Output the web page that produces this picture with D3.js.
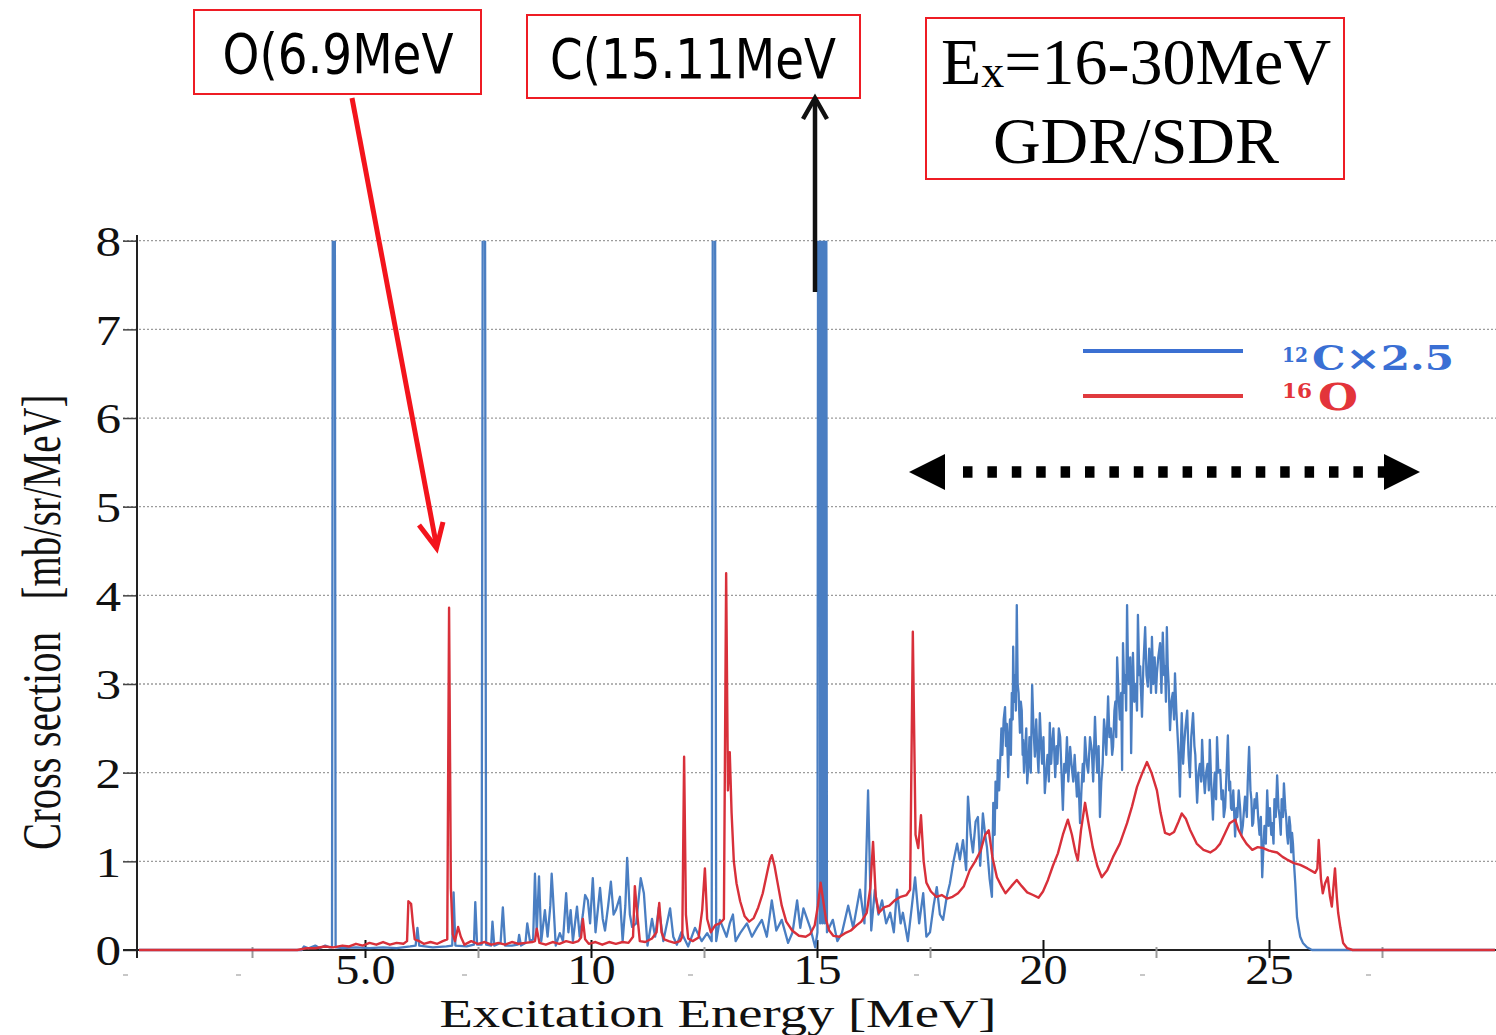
<!DOCTYPE html>
<html>
<head>
<meta charset="utf-8">
<script src="https://cdn.jsdelivr.net/npm/d3@7"></script>
<style>
  html, body { margin: 0; padding: 0; background: #fff; overflow: hidden; }
  svg { display: block; }
</style>
</head>
<body>
<svg id="chart" width="1496" height="1035"></svg>
<script>
// ---- axis ticks and labels ----
const yTicks = [0, 1, 2, 3, 4, 5, 6, 7, 8];
const gridValues = [1, 2, 3, 4, 5, 6, 7, 8];
const xMajorTicks = [5, 10, 15, 20, 25];
const xTickLabels = ["5.0", "10", "15", "20", "25"];
const xMinorTicks = [2.5, 7.5, 12.5, 17.5, 22.5, 27.5];
const xFaintMarks = [0, 2.5, 7.5, 12.5, 17.5, 22.5, 27.5];

// ---- 12C (x2.5) spectrum: [excitation energy MeV, cross section mb/sr/MeV] ----
// discrete states at 4.4, 7.65, 12.71 and 15.11 MeV run far above the frame
const carbonSpectrum = [
  [0,0],[3.6,0],[3.65,0.04],[3.75,0.02],[3.9,0.05],[4.0,0.02],[4.12,0.05],[4.22,0.03],[4.27,0.03],
  [4.295,12],[4.325,12],[4.35,0.03],[4.5,0.02],[4.8,0.03],[5.1,0.02],[5.4,0.03],[5.7,0.02],
  [6.0,0.04],[6.12,0.05],[6.16,0.25],[6.2,0.05],[6.5,0.03],[6.8,0.04],[6.93,0.05],[6.96,0.65],
  [7.0,0.05],[7.25,0.04],[7.41,0.06],[7.44,0.54],[7.48,0.06],[7.58,0.06],[7.615,12],[7.645,12],
  [7.68,0.06],[7.79,0.05],[7.82,0.32],[7.86,0.05],[8.0,0.08],[8.05,0.48],[8.1,0.05],[8.25,0.05],
  [8.38,0.06],[8.41,0.17],[8.45,0.05],[8.55,0.08],[8.59,0.3],[8.65,0.1],[8.72,0.12],[8.76,0.86],
  [8.8,0.2],[8.85,0.83],[8.9,0.1],[8.98,0.45],[9.04,0.15],[9.1,0.5],[9.13,0.86],[9.16,0.6],
  [9.22,0.05],[9.31,0.19],[9.38,0.1],[9.45,0.64],[9.5,0.2],[9.55,0.45],[9.6,0.1],[9.69,0.49],
  [9.75,0.15],[9.82,0.4],[9.87,0.62],[9.93,0.56],[9.98,0.3],[10.04,0.81],[10.1,0.2],[10.2,0.7],
  [10.26,0.35],[10.31,0.22],[10.38,0.5],[10.44,0.77],[10.5,0.4],[10.55,0.45],[10.64,0.6],[10.7,0.1],
  [10.76,0.5],[10.8,1.04],[10.86,0.4],[10.91,0.26],[11.0,0.3],[11.1,0.81],[11.17,0.64],[11.25,0.05],
  [11.35,0.35],[11.42,0.15],[11.5,0.48],[11.6,0.1],[11.75,0.47],[11.82,0.15],[11.9,0.06],[12.0,0.2],
  [12.15,0.04],[12.3,0.25],[12.45,0.1],[12.57,0.19],[12.67,0.1],[12.705,12],[12.735,12],[12.77,0.1],
  [12.85,0.34],[13.0,0.15],[13.07,0.3],[13.14,0.4],[13.2,0.1],[13.3,0.19],[13.45,0.3],[13.56,0.15],
  [13.67,0.25],[13.78,0.34],[13.89,0.15],[14.0,0.56],[14.1,0.22],[14.22,0.34],[14.36,0.08],[14.46,0.2],
  [14.56,0.56],[14.63,0.25],[14.7,0.47],[14.85,0.25],[14.96,0.03],[15.01,0.2],[15.03,12],[15.06,12],
  [15.07,0.3],[15.08,12],[15.11,12],[15.12,0.3],[15.13,12],[15.16,12],[15.17,0.3],[15.18,12],
  [15.2,12],[15.22,0.2],[15.35,0.34],[15.45,0.1],[15.55,0.19],[15.69,0.5],
  [15.8,0.25],[15.95,0.68],[16.05,0.3],[16.13,1.8],[16.2,0.22],[16.28,0.68],[16.36,0.4],[16.44,0.56],
  [16.53,0.3],[16.62,0.42],[16.7,0.2],[16.77,0.68],[16.85,0.3],[16.9,0.42],[17.01,0.1],[17.1,0.5],
  [17.17,0.82],[17.26,0.3],[17.35,0.64],[17.42,0.15],[17.5,0.2],[17.58,0.5],[17.65,0.71],[17.72,0.4],
  [17.79,0.34],[17.87,0.6],[17.94,0.75],[18.02,1.0],[18.1,1.2],[18.16,1.02],[18.23,1.24],[18.3,0.9],
  [18.34,1.73],[18.4,1.3],[18.45,1.1],[18.51,1.45],[18.56,1.5],[18.61,0.95],[18.67,1.54],[18.72,1.3],
  [18.76,1.16],[18.82,0.8],[18.87,0.6],
  [18.90,1.66],[18.93,1.3],[18.95,1.9],[18.98,1.6],[19.00,2.14],[19.03,1.8],[19.05,2.1],[19.08,2.5],
  [19.10,2.2],[19.13,2.6],[19.16,2.74],[19.18,2.3],[19.20,2.55],[19.23,1.95],[19.25,2.4],[19.27,2.6],
  [19.29,2.2],[19.31,2.9],[19.33,2.6],[19.34,3.42],[19.36,2.8],[19.38,3.1],[19.40,2.7],[19.42,3.89],
  [19.44,3.0],[19.46,2.9],[19.48,2.6],[19.49,2.45],[19.51,2.8],[19.53,2.7],[19.55,2.2],[19.56,2.37],
  [19.58,2.0],[19.60,2.2],[19.63,2.5],[19.65,1.88],[19.68,2.1],[19.70,2.4],[19.73,2.0],[19.76,2.99],
  [19.79,2.5],[19.82,2.18],[19.85,2.6],[19.87,2.3],[19.90,2.0],[19.93,2.67],[19.96,2.3],[19.98,2.1],
  [20.01,2.4],[20.04,1.77],[20.07,2.0],[20.10,2.2],[20.13,1.9],[20.15,2.56],[20.18,2.1],[20.20,2.3],
  [20.23,2.5],[20.27,1.95],[20.30,2.3],[20.32,2.1],[20.35,2.5],[20.38,2.4],[20.41,2.0],[20.44,1.58],
  [20.47,2.1],[20.50,2.0],[20.53,2.4],[20.56,1.9],[20.60,2.29],[20.63,2.1],[20.67,1.9],[20.70,2.2],
  [20.75,1.73],[20.78,2.0],[20.82,1.43],[20.85,1.8],[20.88,2.1],[20.90,1.9],[20.93,2.4],[20.97,2.1],
  [21.00,2.0],[21.04,2.4],[21.08,2.25],[21.11,1.9],[21.15,2.63],[21.18,2.2],[21.20,2.0],[21.23,2.3],
  [21.26,1.5],[21.29,1.9],[21.32,2.1],[21.35,2.6],[21.37,2.48],[21.40,2.2],[21.44,2.86],[21.47,2.4],
  [21.50,2.5],[21.53,2.2],[21.55,2.29],[21.58,2.7],[21.60,2.8],[21.62,2.4],[21.64,3.3],[21.67,2.9],
  [21.70,2.6],[21.73,2.9],[21.75,2.03],[21.77,3.46],[21.80,2.9],[21.82,3.1],[21.84,2.7],[21.86,3.89],
  [21.88,3.2],[21.90,3.0],[21.93,3.3],[21.95,2.22],[21.97,2.9],[21.99,3.35],[22.02,2.8],[22.05,3.0],
  [22.08,2.7],[22.10,3.78],[22.13,3.1],[22.15,3.2],[22.17,2.9],[22.19,2.63],[22.22,3.2],[22.26,3.64],
  [22.29,3.1],[22.32,2.97],[22.35,3.4],[22.37,3.2],[22.39,2.9],[22.41,3.53],[22.44,3.0],[22.47,3.3],
  [22.50,2.9],[22.52,3.12],[22.55,3.3],[22.59,3.46],[22.62,2.9],[22.65,3.58],[22.68,3.1],[22.70,3.2],
  [22.72,2.8],[22.74,3.64],[22.76,3.2],[22.78,3.0],[22.81,2.48],[22.84,2.8],[22.87,2.9],[22.90,2.6],
  [22.92,3.12],[22.95,2.7],[22.97,2.5],[23.00,2.2],[23.03,1.73],[23.05,2.3],[23.07,2.67],[23.10,2.1],
  [23.12,2.3],[23.15,2.5],[23.19,2.7],[23.22,2.2],[23.25,1.95],[23.28,2.4],[23.32,2.67],[23.35,2.3],
  [23.37,2.2],[23.39,1.9],[23.41,1.66],[23.44,2.0],[23.47,2.1],[23.50,1.9],[23.52,2.37],[23.55,2.0],
  [23.58,1.77],[23.61,2.0],[23.64,2.1],[23.67,1.8],[23.69,2.37],[23.72,1.9],[23.76,1.47],[23.78,1.8],
  [23.80,2.0],[23.83,1.7],[23.85,2.4],[23.88,2.0],[23.92,2.03],[23.95,1.7],[23.98,1.8],[24.00,1.5],
  [24.03,1.61],[24.06,2.0],[24.09,2.42],[24.12,1.8],[24.14,1.9],[24.16,1.6],[24.18,1.58],[24.21,1.8],
  [24.25,1.28],[24.28,1.6],[24.30,1.5],[24.33,1.8],[24.36,1.61],[24.39,1.3],[24.42,1.4],[24.45,1.6],
  [24.47,1.73],[24.51,1.5],[24.53,1.9],[24.56,2.29],[24.59,1.8],[24.61,1.7],[24.63,1.4],[24.65,1.43],
  [24.68,1.7],[24.70,1.6],[24.73,1.77],[24.76,1.5],[24.79,1.3],[24.82,1.5],[24.85,0.82],[24.88,1.2],
  [24.90,1.4],[24.93,1.2],[24.96,1.8],[24.99,1.4],[25.02,1.6],[25.05,1.3],[25.07,1.43],[25.10,1.2],
  [25.12,1.7],[25.15,1.5],[25.18,1.97],[25.21,1.6],[25.24,1.47],[25.26,1.3],[25.28,1.7],[25.31,1.5],
  [25.33,1.88],[25.36,1.6],[25.38,1.5],[25.40,1.3],[25.42,1.2],[25.45,1.5],[25.47,1.4],[25.49,1.1],
  [25.51,1.32],[25.53,1.2],[25.55,1.0],[25.58,0.76],[25.62,0.37],[25.69,0.15],[25.75,0.08],
  [25.84,0.03],[25.95,0],[30,0]
];

// ---- 16O spectrum: [excitation energy MeV, cross section mb/sr/MeV] ----
const oxygenSpectrum = [
  [0,0],[3.5,0],[3.7,0.02],[3.9,0.02],[4.1,0.04],[4.3,0.03],[4.5,0.05],[4.65,0.04],[4.8,0.07],
  [4.95,0.05],[5.1,0.08],[5.25,0.06],[5.4,0.09],[5.55,0.06],[5.7,0.08],[5.85,0.07],[5.93,0.1],
  [5.96,0.55],[6.02,0.52],[6.06,0.3],[6.1,0.12],[6.2,0.1],[6.3,0.07],[6.45,0.09],[6.6,0.07],
  [6.72,0.1],[6.82,0.12],[6.86,3.86],[6.9,0.7],[6.94,0.18],[6.99,0.1],[7.06,0.26],[7.12,0.15],
  [7.2,0.06],[7.35,0.1],[7.5,0.07],[7.65,0.09],[7.8,0.06],[7.95,0.08],[8.1,0.06],[8.25,0.09],
  [8.4,0.07],[8.55,0.08],[8.7,0.09],[8.76,0.1],[8.8,0.24],[8.86,0.08],[9.0,0.06],[9.15,0.09],
  [9.3,0.07],[9.45,0.1],[9.6,0.08],[9.72,0.1],[9.78,0.14],[9.82,0.35],[9.87,0.12],[9.95,0.07],
  [10.1,0.09],[10.25,0.06],[10.4,0.09],[10.55,0.07],[10.7,0.09],[10.83,0.08],[10.93,0.15],[10.97,0.72],
  [11.02,0.42],[11.08,0.1],[11.2,0.09],[11.35,0.13],[11.45,0.2],[11.51,0.53],[11.56,0.2],[11.62,0.12],
  [11.72,0.1],[11.85,0.08],[11.97,0.1],[12.02,0.15],[12.06,2.18],[12.1,0.4],[12.15,0.13],[12.25,0.1],
  [12.38,0.14],[12.46,0.45],[12.52,0.92],[12.57,0.35],[12.65,0.2],[12.75,0.28],[12.85,0.3],[12.94,0.35],
  [12.99,4.25],[13.03,1.8],[13.07,2.23],[13.11,1.55],[13.16,1.0],[13.22,0.75],[13.3,0.55],[13.4,0.38],
  [13.5,0.32],[13.6,0.36],[13.7,0.48],[13.8,0.64],[13.9,0.88],[13.96,1.02],[14.0,1.07],[14.06,0.95],
  [14.12,0.78],[14.22,0.5],[14.32,0.32],[14.45,0.22],[14.6,0.16],[14.75,0.15],[14.85,0.18],[14.95,0.28],
  [15.02,0.5],[15.08,0.76],[15.14,0.55],[15.2,0.34],[15.27,0.22],[15.36,0.16],[15.5,0.15],[15.62,0.19],
  [15.75,0.22],[15.88,0.28],[15.98,0.32],[16.1,0.42],[16.18,0.7],[16.24,1.22],[16.3,0.6],[16.37,0.42],
  [16.48,0.48],[16.6,0.5],[16.72,0.56],[16.85,0.6],[16.98,0.62],[17.06,0.68],[17.12,3.59],[17.18,1.3],
  [17.24,1.15],[17.3,1.52],[17.36,1.0],[17.42,0.76],[17.52,0.66],[17.64,0.6],[17.76,0.62],[17.88,0.58],
  [18.0,0.6],[18.12,0.64],[18.25,0.72],[18.38,0.9],[18.5,1.0],[18.62,1.12],[18.72,1.3],[18.8,1.35],
  [18.88,1.05],[18.98,0.82],[19.08,0.72],[19.17,0.64],[19.3,0.72],[19.42,0.79],[19.53,0.72],[19.65,0.65],
  [19.78,0.62],[19.9,0.59],[20.0,0.66],[20.11,0.79],[20.22,0.95],[20.33,1.09],[20.44,1.3],[20.55,1.47],
  [20.64,1.3],[20.72,1.1],[20.77,1.01],[20.84,1.35],[20.93,1.66],[21.0,1.45],[21.1,1.16],[21.2,0.95],
  [21.3,0.82],[21.42,0.9],[21.55,1.05],[21.7,1.2],[21.86,1.43],[21.97,1.62],[22.08,1.84],[22.2,2.0],
  [22.3,2.12],[22.4,2.0],[22.52,1.8],[22.6,1.55],[22.7,1.32],[22.8,1.3],[22.9,1.33],[23.0,1.45],
  [23.07,1.54],[23.16,1.48],[23.25,1.36],[23.4,1.2],[23.55,1.13],[23.7,1.1],[23.82,1.14],[23.92,1.2],
  [24.03,1.32],[24.13,1.43],[24.25,1.47],[24.33,1.35],[24.4,1.28],[24.5,1.2],[24.63,1.13],[24.75,1.16],
  [24.87,1.15],[25.0,1.12],[25.18,1.1],[25.3,1.05],[25.4,1.02],[25.55,0.98],[25.69,0.96],[25.85,0.92],
  [26.02,0.87],[26.07,0.92],[26.1,1.24],[26.15,0.8],[26.19,0.64],[26.24,0.75],[26.3,0.82],[26.35,0.6],
  [26.39,0.49],[26.46,0.92],[26.5,0.6],[26.53,0.42],[26.58,0.25],[26.64,0.08],[26.73,0.02],[26.85,0],[30,0]
];

const legendItems = [
  { sup: "12", main: "C\u00d72.5", color: "#3a6fd4", line: "#3b70d2" },
  { sup: "16", main: "O", color: "#e3343a", line: "#e03a3e" }
];

const serif = "'Liberation Serif', 'Times New Roman', serif";
const boxSans = "'DejaVu Sans', Verdana, sans-serif";

const svg = d3.select("#chart");
svg.append("rect").attr("width", 1496).attr("height", 1035).attr("fill", "#fff");

const x = d3.scaleLinear().domain([0, 30]).range([139, 1495]);
const y = d3.scaleLinear().domain([0, 8]).range([950, 240.7]);

// ---- dotted horizontal gridlines ----
svg.append("g").selectAll("line").data(gridValues).join("line")
  .attr("x1", 123).attr("x2", 1496)
  .attr("y1", d => y(d)).attr("y2", d => y(d))
  .attr("stroke", "#9c9c9c").attr("stroke-width", 1.3)
  .attr("stroke-dasharray", "2,2");

// ---- y axis ----
const yAxis = svg.append("g").attr("transform", "translate(137,0)")
  .call(d3.axisLeft(y).tickValues(yTicks).tickSize(14).tickSizeOuter(0).tickFormat(d3.format("d")));
yAxis.select(".domain").remove();
yAxis.selectAll(".tick line").attr("stroke", "#444").attr("stroke-width", 1.5);
yAxis.selectAll(".tick text")
  .attr("x", -13).attr("dy", "0.35em")
  .attr("transform", "scale(1.22,1)")
  .attr("font-family", serif).attr("font-size", 42).attr("fill", "#111");

svg.append("line").attr("x1", 137).attr("x2", 137).attr("y1", 235).attr("y2", 958)
  .attr("stroke", "#222").attr("stroke-width", 2);

// ---- x axis ----
svg.append("line").attr("x1", 123).attr("x2", 1496).attr("y1", y(0)).attr("y2", y(0))
  .attr("stroke", "#222").attr("stroke-width", 2);

const xMinor = svg.append("g").attr("transform", `translate(0,${y(0)})`)
  .call(d3.axisBottom(x).tickValues(xMinorTicks).tickSize(8).tickFormat(""));
xMinor.select(".domain").remove();
xMinor.selectAll(".tick line").attr("y1", -3).attr("stroke", "#9a9a9a").attr("stroke-width", 2);

const xMajor = svg.append("g").attr("transform", `translate(0,${y(0)})`)
  .call(d3.axisBottom(x).tickValues(xMajorTicks).tickSize(8).tickFormat((d, i) => xTickLabels[i]));
xMajor.select(".domain").remove();
xMajor.selectAll(".tick line").attr("y1", -10).attr("stroke", "#111").attr("stroke-width", 2);
xMajor.selectAll(".tick text")
  .attr("y", 34).attr("dy", 0)
  .attr("transform", "scale(1.15,1)")
  .attr("font-family", serif).attr("font-size", 42).attr("fill", "#111");

// faint marks under the axis
svg.append("g").selectAll("line").data(xFaintMarks).join("line")
  .attr("x1", d => x(d) - 16).attr("x2", d => x(d) - 11)
  .attr("y1", 975).attr("y2", 975)
  .attr("stroke", "#b5b5b5").attr("stroke-width", 1.5);

// ---- spectra ----
svg.append("clipPath").attr("id", "plotClip")
  .append("rect").attr("x", 137).attr("y", y(8))
  .attr("width", 1496 - 137).attr("height", y(0) - y(8) + 12);

const line = d3.line().x(d => x(d[0])).y(d => y(d[1]));
const plot = svg.append("g").attr("clip-path", "url(#plotClip)");
plot.append("path").datum(carbonSpectrum).attr("d", line)
  .attr("fill", "none").attr("stroke", "#4a7ec2").attr("stroke-width", 2.3)
  .attr("stroke-linejoin", "round");
plot.append("path").datum(oxygenSpectrum).attr("d", line)
  .attr("fill", "none").attr("stroke", "#d8303a").attr("stroke-width", 2.4)
  .attr("stroke-linejoin", "round");

// ---- axis titles ----
svg.append("text")
  .attr("transform", "translate(718,1027)")
  .attr("text-anchor", "middle")
  .attr("textLength", 557).attr("lengthAdjust", "spacingAndGlyphs")
  .attr("font-family", serif).attr("font-size", 40).attr("fill", "#111")
  .text("Excitation Energy [MeV]");

svg.append("text")
  .attr("transform", "translate(60,741) scale(1.35,1) rotate(-90)")
  .attr("text-anchor", "middle")
  .attr("textLength", 218).attr("lengthAdjust", "spacingAndGlyphs")
  .attr("font-family", serif).attr("font-size", 41).attr("fill", "#111")
  .text("Cross section");
svg.append("text")
  .attr("transform", "translate(60,497) scale(1.35,1) rotate(-90)")
  .attr("text-anchor", "middle")
  .attr("textLength", 205).attr("lengthAdjust", "spacingAndGlyphs")
  .attr("font-family", serif).attr("font-size", 41).attr("fill", "#111")
  .text("[mb/sr/MeV]");

// ---- legend ----
const legend = svg.append("g");
legendItems.forEach((item, i) => {
  const ly = i === 0 ? 351 : 396;
  legend.append("line").attr("x1", 1083).attr("x2", 1243).attr("y1", ly).attr("y2", ly)
    .attr("stroke", item.line).attr("stroke-width", 4);
  legend.append("text")
    .attr("x", 1282).attr("y", i === 0 ? 362 : 398)
    .attr("textLength", i === 0 ? 26 : 30).attr("lengthAdjust", "spacingAndGlyphs")
    .attr("font-family", "'DejaVu Serif', serif").attr("font-weight", "bold")
    .attr("font-size", 21).attr("fill", item.color)
    .text(item.sup);
  legend.append("text")
    .attr("x", i === 0 ? 1312 : 1318).attr("y", i === 0 ? 370 : 410)
    .attr("textLength", i === 0 ? 142 : 40).attr("lengthAdjust", "spacingAndGlyphs")
    .attr("font-family", "'DejaVu Serif', serif").attr("font-weight", "bold")
    .attr("font-size", i === 0 ? 33 : 37).attr("fill", item.color)
    .text(item.main);
});

// ---- annotation boxes ----
const boxRed = "#ee1c24";
const ann = svg.append("g");
ann.append("rect").attr("x", 194).attr("y", 10).attr("width", 287).attr("height", 84)
  .attr("fill", "none").attr("stroke", boxRed).attr("stroke-width", 2);
ann.append("text").attr("x", 338).attr("y", 73).attr("text-anchor", "middle")
  .attr("textLength", 231).attr("lengthAdjust", "spacingAndGlyphs")
  .attr("font-family", boxSans).attr("font-size", 56).attr("fill", "#000")
  .text("O(6.9MeV");

ann.append("rect").attr("x", 527).attr("y", 15).attr("width", 333).attr("height", 83)
  .attr("fill", "none").attr("stroke", boxRed).attr("stroke-width", 2);
ann.append("text").attr("x", 693).attr("y", 78).attr("text-anchor", "middle")
  .attr("textLength", 286).attr("lengthAdjust", "spacingAndGlyphs")
  .attr("font-family", boxSans).attr("font-size", 55).attr("fill", "#000")
  .text("C(15.11MeV");

ann.append("rect").attr("x", 926).attr("y", 18).attr("width", 418).attr("height", 161)
  .attr("fill", "none").attr("stroke", boxRed).attr("stroke-width", 2);
const exText = ann.append("text").attr("x", 1136).attr("y", 84).attr("text-anchor", "middle")
  .attr("font-family", serif).attr("font-size", 66).attr("fill", "#000");
exText.append("tspan").text("E");
exText.append("tspan").attr("dy", 3).attr("font-size", 46).text("x");
exText.append("tspan").attr("dy", -3).text("=16-30MeV");
ann.append("text").attr("x", 1136).attr("y", 163).attr("text-anchor", "middle")
  .attr("font-family", serif).attr("font-size", 66).attr("fill", "#000")
  .text("GDR/SDR");

// red pointer to the 6.9 MeV oxygen state
ann.append("line").attr("x1", 352).attr("y1", 98).attr("x2", 436).attr("y2", 543)
  .attr("stroke", "#f3141c").attr("stroke-width", 5);
ann.append("polyline").attr("points", "419,525 436.5,548 443,522")
  .attr("fill", "none").attr("stroke", "#f3141c").attr("stroke-width", 5)
  .attr("stroke-linejoin", "miter");

// black pointer from the 15.11 MeV carbon state
ann.append("line").attr("x1", 815).attr("y1", 292).attr("x2", 815).attr("y2", 100)
  .attr("stroke", "#111").attr("stroke-width", 4.5);
ann.append("polyline").attr("points", "803,119 815,98 827,119")
  .attr("fill", "none").attr("stroke", "#111").attr("stroke-width", 4.5);

// dotted double arrow spanning the resonance region
ann.append("line").attr("x1", 963).attr("x2", 1387).attr("y1", 472).attr("y2", 472)
  .attr("stroke", "#000").attr("stroke-width", 11.5).attr("stroke-dasharray", "9.5,14.9");
ann.append("polygon").attr("points", "909,472 945,454 945,490").attr("fill", "#000");
ann.append("polygon").attr("points", "1420,472 1384,454 1384,490").attr("fill", "#000");
</script>
</body>
</html>
